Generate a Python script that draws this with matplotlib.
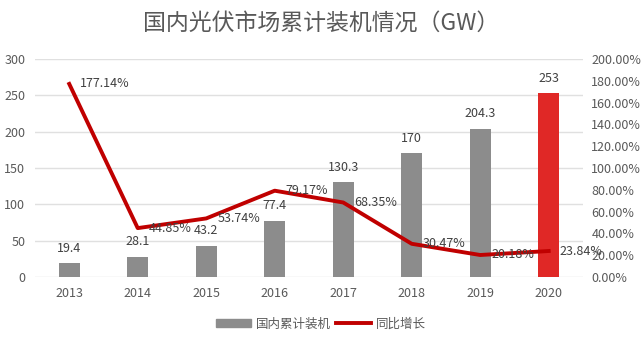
import matplotlib.pyplot as plt
import numpy as np
from matplotlib.patches import Patch
from matplotlib.lines import Line2D

plt.rcParams['font.family'] = ['Noto Sans CJK SC', 'DejaVu Sans']

years = ['2013', '2014', '2015', '2016', '2017', '2018', '2019', '2020']
installed = [19.4, 28.1, 43.2, 77.4, 130.3, 170, 204.3, 253]
growth = [177.14, 44.85, 53.74, 79.17, 68.35, 30.47, 20.18, 23.84]

txt = '#595959'
fig = plt.figure(figsize=(6.42, 3.41), dpi=100)
ax = fig.add_axes([0.0545, 0.1877, 0.8535, 0.6393])
x = np.arange(len(years))

# 柱状图：累计装机，2020年标红
colors = ['#8c8c8c'] * (len(years) - 1) + ['#e02826']
ax.bar(x, installed, width=0.31, color=colors, zorder=2)
for xi, v in zip(x, installed):
    ax.annotate(f'{v:g}', (xi, v), xytext=(0, 6), textcoords='offset points',
                ha='center', va='bottom', fontsize=9, color='#404040')

ax.set_ylim(0, 300)
ax.set_yticks(range(0, 301, 50))
ax.set_xlim(-0.5, len(years) - 0.5)
ax.set_xticks(x)
ax.set_xticklabels(years)
ax.grid(axis='y', color='#e0e0e0', linewidth=1, zorder=0)
for s in ax.spines.values():
    s.set_visible(False)
ax.tick_params(length=0, labelsize=9, colors=txt)
ax.tick_params(axis='x', pad=7)
ax.tick_params(axis='y', pad=7)

# 折线：同比增长
ax2 = ax.twinx()
ax2.plot(x, [g / 100 for g in growth], color='#c00000', linewidth=2.8, zorder=3)
for xi, g in zip(x, growth):
    ax2.annotate(f'{g:.2f}%', (xi, g / 100), xytext=(8, 0), textcoords='offset points',
                 ha='left', va='center', fontsize=9, color='#404040')
ax2.set_ylim(0, 2)
ticks2 = np.arange(0, 2.01, 0.2)
ax2.set_yticks(ticks2)
ax2.set_yticklabels([f'{v * 100:.2f}%' for v in ticks2])
for s in ax2.spines.values():
    s.set_visible(False)
ax2.tick_params(length=0, labelsize=9, colors=txt, pad=6)

fig.suptitle('国内光伏市场累计装机情况（GW）', x=0.5, y=0.965, fontsize=16.5, color=txt)

handles = [Patch(color='#8c8c8c'), Line2D([0], [0], color='#c00000', linewidth=2.8)]
fig.legend(handles, ['国内累计装机', '同比增长'], loc='center', bbox_to_anchor=(0.5, 0.05),
           ncol=2, frameon=False, fontsize=9, labelcolor=txt, handlelength=2.8,
           handletextpad=0.4, columnspacing=0.4)

fig.savefig('out.png', dpi=100)
